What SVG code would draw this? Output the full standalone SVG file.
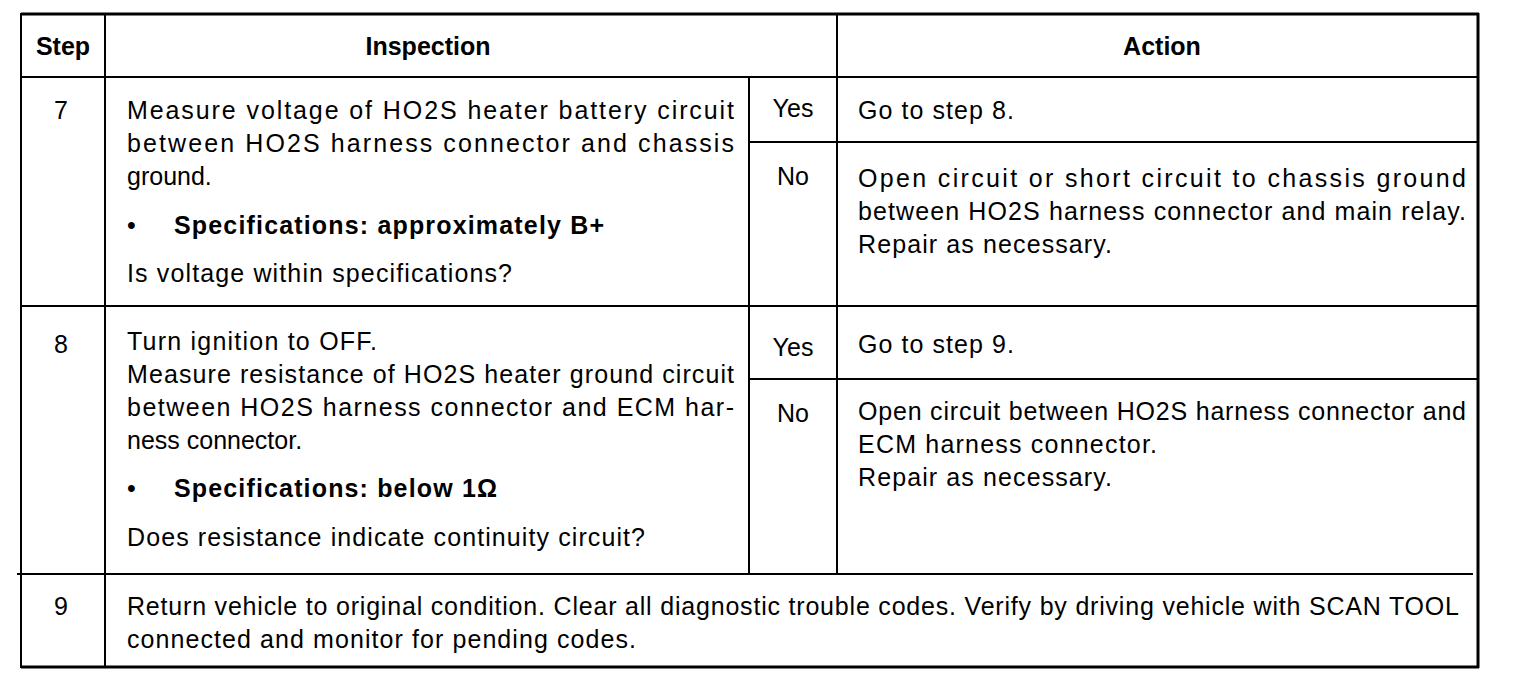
<svg xmlns="http://www.w3.org/2000/svg" width="1520" height="684" viewBox="0 0 1520 684">
<style>
.t{font-family:"Liberation Sans",Arial,sans-serif;font-size:25px;fill:#000}
.b{font-weight:bold}
.c{text-anchor:middle}
.ln{stroke:#000;stroke-width:2;fill:none}
.bd{stroke:#000;stroke-width:3;fill:none}
</style>
<rect width="1520" height="684" fill="#fff"/>
<g id="connectors">
<line class="bd" x1="21" y1="14" x2="1479" y2="14"/>
<line class="bd" x1="21" y1="667" x2="1479" y2="667"/>
<line class="ln" x1="21" y1="13" x2="21" y2="668"/>
<line class="bd" x1="1478" y1="13" x2="1478" y2="668"/>
<line class="ln" x1="105" y1="14" x2="105" y2="667"/>
<line class="ln" x1="749" y1="77" x2="749" y2="574"/>
<line class="ln" x1="837" y1="14" x2="837" y2="574"/>
<line class="ln" x1="21" y1="77" x2="1478" y2="77"/>
<line class="ln" x1="749" y1="142" x2="1478" y2="142"/>
<line class="ln" x1="21" y1="306" x2="1478" y2="306"/>
<line class="ln" x1="749" y1="379" x2="1478" y2="379"/>
<line class="ln" x1="17" y1="574" x2="1473" y2="574"/>
</g>
<g id="header">
<text class="t b c" x="63" y="55">Step</text>
<text class="t b c" x="428" y="55">Inspection</text>
<text class="t b c" x="1162" y="55">Action</text>
</g>
<g id="step7">
<text class="t c" x="61" y="119">7</text>
<text class="t" x="127" y="119" textLength="607" lengthAdjust="spacing">Measure voltage of HO2S heater battery circuit</text>
<text class="t" x="127" y="152" textLength="607" lengthAdjust="spacing">between HO2S harness connector and chassis</text>
<text class="t" x="127" y="185">ground.</text>
<text class="t" x="127" y="234">•</text>
<text class="t b" x="174" y="234" textLength="430" lengthAdjust="spacing">Specifications: approximately B+</text>
<text class="t" x="127" y="282" textLength="385" lengthAdjust="spacing">Is voltage within specifications?</text>
<text class="t c" x="793" y="117">Yes</text>
<text class="t c" x="793" y="185">No</text>
<text class="t" x="858" y="119" textLength="156" lengthAdjust="spacing">Go to step 8.</text>
<text class="t" x="858" y="187" textLength="608" lengthAdjust="spacing">Open circuit or short circuit to chassis ground</text>
<text class="t" x="858" y="220" textLength="608" lengthAdjust="spacing">between HO2S harness connector and main relay.</text>
<text class="t" x="858" y="253" textLength="254" lengthAdjust="spacing">Repair as necessary.</text>
</g>
<g id="step8">
<text class="t c" x="61" y="353">8</text>
<text class="t" x="127" y="350" textLength="250" lengthAdjust="spacing">Turn ignition to OFF.</text>
<text class="t" x="127" y="383" textLength="607" lengthAdjust="spacing">Measure resistance of HO2S heater ground circuit</text>
<text class="t" x="127" y="416" textLength="607" lengthAdjust="spacing">between HO2S harness connector and ECM har-</text>
<text class="t" x="127" y="449">ness connector.</text>
<text class="t" x="127" y="497">•</text>
<text class="t b" x="174" y="497" textLength="323" lengthAdjust="spacing">Specifications: below 1Ω</text>
<text class="t" x="127" y="546" textLength="518" lengthAdjust="spacing">Does resistance indicate continuity circuit?</text>
<text class="t c" x="793" y="356">Yes</text>
<text class="t c" x="793" y="422">No</text>
<text class="t" x="858" y="353" textLength="156" lengthAdjust="spacing">Go to step 9.</text>
<text class="t" x="858" y="420" textLength="608" lengthAdjust="spacing">Open circuit between HO2S harness connector and</text>
<text class="t" x="858" y="453" textLength="299" lengthAdjust="spacing">ECM harness connector.</text>
<text class="t" x="858" y="486" textLength="254" lengthAdjust="spacing">Repair as necessary.</text>
</g>
<g id="step9">
<text class="t c" x="61" y="615">9</text>
<text class="t" x="127" y="615" textLength="1332" lengthAdjust="spacing">Return vehicle to original condition. Clear all diagnostic trouble codes. Verify by driving vehicle with SCAN TOOL</text>
<text class="t" x="127" y="648" textLength="509" lengthAdjust="spacing">connected and monitor for pending codes.</text>
</g>
</svg>
